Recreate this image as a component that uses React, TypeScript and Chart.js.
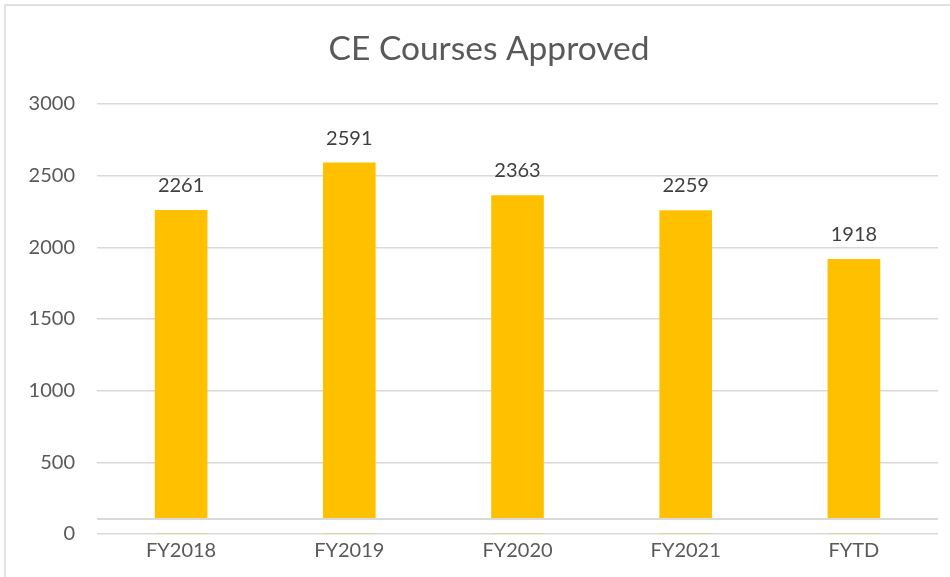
import React, { useEffect, useRef } from "react";
import { Chart, registerables } from "chart.js";

Chart.register(...registerables);

const categories = ["FY2018", "FY2019", "FY2020", "FY2021", "FYTD"];
const approved = [2261, 2591, 2363, 2259, 1918];
const yTicks = [0, 500, 1000, 1500, 2000, 2500, 3000];
const chartTitle = "CE Courses Approved";

const FONT = "Lato, 'Open Sans', sans-serif";

const framePlugin = {
  id: "frame",
  beforeDraw(chart: any) {
    const ctx = chart.ctx;
    ctx.save();
    ctx.fillStyle = "#ffffff";
    ctx.fillRect(0, 0, chart.width, chart.height);
    ctx.strokeStyle = "#d9d9d9";
    ctx.lineWidth = 1.5;
    ctx.strokeRect(5, 5, chart.width + 10, chart.height + 10);
    ctx.font = `33.5px ${FONT}`;
    ctx.fillStyle = "#595959";
    ctx.textAlign = "center";
    ctx.textBaseline = "middle";
    ctx.fillText(chartTitle, 489, 49);
    ctx.restore();
  },
};

const bandPlugin = {
  id: "band",
  afterDatasetsDraw(chart: any) {
    const ctx = chart.ctx;
    const y = chart.scales.y;
    const zero = y.getPixelForValue(0);
    const { left, right } = chart.chartArea;
    ctx.save();
    ctx.fillStyle = "#ffffff";
    ctx.fillRect(left - 1, zero - 16, right - left + 2, 15);
    ctx.strokeStyle = "#d9d9d9";
    ctx.lineWidth = 2;
    ctx.beginPath();
    ctx.moveTo(left, zero - 15);
    ctx.lineTo(right, zero - 15);
    ctx.stroke();
    ctx.restore();
  },
};

const labelPlugin = {
  id: "valueLabels",
  afterDatasetsDraw(chart: any) {
    const ctx = chart.ctx;
    const meta = chart.getDatasetMeta(0);
    ctx.save();
    ctx.font = `20px ${FONT}`;
    ctx.fillStyle = "#404040";
    ctx.textAlign = "center";
    ctx.textBaseline = "alphabetic";
    meta.data.forEach((bar: any, i: number) => {
      ctx.fillText(String(approved[i]), bar.x, bar.y - 18);
    });
    ctx.restore();
  },
};

export default function App() {
  const ref = useRef<HTMLCanvasElement | null>(null);
  useEffect(() => {
    if (!ref.current) return;
    const chart = new Chart(ref.current, {
      type: "bar",
      data: {
        labels: categories,
        datasets: [
          {
            label: chartTitle,
            data: approved,
            backgroundColor: "#FFC000",
            borderWidth: 0,
            categoryPercentage: 1,
            barPercentage: 0.313,
          },
        ],
      },
      options: {
        animation: false,
        responsive: false,
        maintainAspectRatio: false,
        layout: { padding: { top: 104, right: 12, bottom: 0, left: 0 } },
        plugins: {
          legend: { display: false },
          tooltip: { enabled: false },
          title: { display: false },
        },
        scales: {
          x: {
            grid: { display: false, drawTicks: false },
            border: { display: false },
            ticks: {
              color: "#595959",
              font: { family: FONT, size: 20 },
              padding: 5,
              maxRotation: 0,
            },
            afterFit(s: any) {
              s.height = 43;
            },
          },
          y: {
            min: 0,
            max: 3000,
            afterBuildTicks(s: any) {
              s.ticks = yTicks.map((v) => ({ value: v }));
            },
            grid: { color: "#d9d9d9", lineWidth: 1.5, drawTicks: false },
            border: { display: false },
            ticks: {
              color: "#595959",
              font: { family: FONT, size: 20 },
              padding: 22,
              callback: (v: any) => String(v),
            },
            afterFit(s: any) {
              s.width = 97;
            },
          },
        },
      },
      plugins: [framePlugin, bandPlugin, labelPlugin],
    });
    return () => chart.destroy();
  }, []);
  return (
    <div style={{ position: "absolute", left: 0, top: 0, width: 950, height: 577 }}>
      <canvas ref={ref} width={950} height={577} style={{ width: 950, height: 577 }} />
    </div>
  );
}
